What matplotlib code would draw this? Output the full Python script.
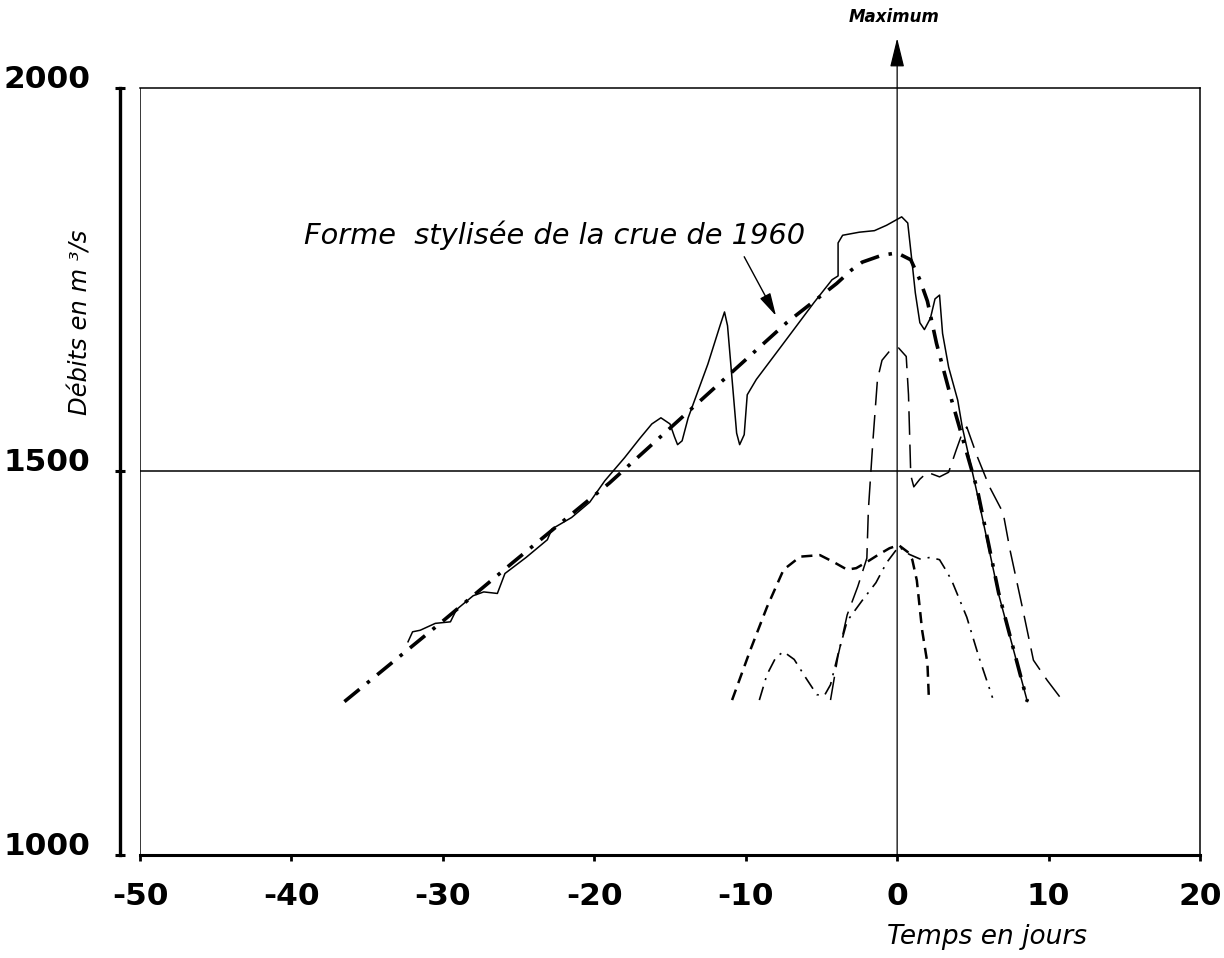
import matplotlib
matplotlib.use("Agg")
import matplotlib.pyplot as plt

plt.rcParams['lines.scale_dashes'] = False
plt.rcParams['axes.unicode_minus'] = False
plt.rcParams['font.family'] = ['DejaVu Sans']

# ---- data ----
x_ticks = [-50, -40, -30, -20, -10, 0, 10, 20]
y_ticks = [1000, 1500, 2000]

# stylised 1960 flood (thick dash-dot)
styl_t = [-36.5, -30, -25.4, -19, -11.5, -7.3, -4, -3, -2.3, -1, 0, 0.9, 1.5, 2.0, 2.6, 3.6, 5.3, 6.7, 8.6]
styl_q = [1200, 1305, 1381, 1485, 1619, 1694, 1745, 1763, 1773, 1782, 1785, 1776, 1750, 1722, 1667, 1593, 1476, 1342, 1200]

# observed 1960 flood (solid)
f1960_t = [-32.3, -32.0, -31.5, -30.5, -29.5, -29.1, -28.0, -27.3, -26.4, -25.9, -24.5, -23.1, -22.8,
           -21.5, -20.3, -19.3, -18.0, -17.0, -16.2, -15.6, -15.0, -14.7, -14.5, -14.2, -13.8, -12.5,
           -11.7, -11.4, -11.2, -10.9, -10.6, -10.4, -10.1, -9.9, -9.3, -7.7, -5.5, -4.3, -3.9, -3.9,
           -3.6, -2.5, -1.5, -0.7, 0.3, 0.7, 1.0, 1.2, 1.5, 1.8, 2.2, 2.5, 2.8, 3.0, 3.4, 4.0, 4.3,
           5.3, 6.7, 8.6]
f1960_q = [1278, 1291, 1293, 1302, 1304, 1320, 1338, 1343, 1341, 1367, 1388, 1411, 1425,
           1440, 1460, 1488, 1518, 1543, 1562, 1570, 1562, 1545, 1535, 1540, 1570, 1640,
           1690, 1708, 1690, 1620, 1550, 1535, 1548, 1600, 1620, 1662, 1720, 1750, 1755, 1798,
           1808, 1812, 1814, 1821, 1832, 1824, 1770, 1733, 1694, 1685, 1700, 1725, 1730, 1680,
           1636, 1593, 1558, 1470, 1340, 1200]

# flood A (long dashes, max ~1660)
fa_t = [-4.4, -3.9, -3.3, -2.6, -2.0, -1.9, -1.6, -1.3, -1.0, -0.5, 0.1, 0.6, 0.75, 0.85, 0.9, 1.1,
        1.5, 2.0, 2.8, 3.4, 3.9, 4.3, 4.6, 5.3, 6.1, 7.0, 7.45, 8.3, 9.0, 9.9, 10.9]
fa_q = [1202, 1260, 1313, 1350, 1387, 1450, 1540, 1620, 1645, 1657, 1661, 1650, 1600, 1530, 1495, 1480,
        1490, 1499, 1493, 1499, 1528, 1550, 1558, 1519, 1480, 1446, 1398, 1320, 1254, 1228, 1202]

# flood B (medium dashes, max ~1400)
fb_t = [-10.9, -9.7, -8.6, -7.5, -6.4, -5.1, -4.2, -3.3, -2.7, -2.0, -1.2, -0.5, 0.1, 0.7, 1.0, 1.3, 1.65, 2.0, 2.1]
fb_q = [1202, 1267, 1323, 1372, 1389, 1391, 1382, 1372, 1374, 1382, 1392, 1400, 1404, 1395, 1385, 1358, 1293, 1250, 1202]

# flood C (thin dash-dot, max ~1400)
fc_t = [-9.1, -8.6, -8.0, -7.5, -6.8, -6.0, -5.3, -4.8, -4.4, -3.9, -3.3, -2.3, -1.4, -0.7, 0.1,
        0.8, 1.5, 2.2, 2.8, 3.2, 3.6, 4.6, 5.4, 6.3]
fc_q = [1202, 1235, 1258, 1265, 1255, 1230, 1209, 1208, 1222, 1262, 1305, 1332, 1355, 1381, 1402,
        1392, 1386, 1388, 1385, 1372, 1358, 1310, 1258, 1205]

annot_text = "Forme  stylisée de la crue de 1960"
xlabel = "Temps en jours"
ylabel = "Débits en m ³/s"
max_label = "Maximum"

# ---- figure ----
fig = plt.figure(figsize=(12.24, 9.58), dpi=100)
ax = fig.add_axes([140/1224, 103/958, 1060/1224, 767/958])
ax.set_xlim(-50, 20)
ax.set_ylim(1000, 2000)

ax.plot(f1960_t, f1960_q, color='k', lw=1.1, solid_joinstyle='round')
ax.plot(styl_t, styl_q, color='k', lw=2.6, linestyle=(0, (14, 7, 2.5, 7)))
ax.plot(fa_t, fa_q, color='k', lw=1.1, linestyle=(0, (17, 7)))
ax.plot(fb_t, fb_q, color='k', lw=1.8, linestyle=(0, (8, 5)))
ax.plot(fc_t, fc_q, color='k', lw=1.2, linestyle=(0, (10, 5, 1.5, 5)))

# reference lines
ax.axhline(1500, color='k', lw=1.1)
ax.axvline(-50, color='k', lw=1.1)

# Maximum arrow
ax.annotate('', xy=(0, 2065), xytext=(0, 1000), annotation_clip=False,
            arrowprops=dict(arrowstyle='-|>,head_length=0.9,head_width=0.22', color='k',
                            lw=0.9, mutation_scale=20, shrinkA=0, shrinkB=0))
ax.text(-0.2, 2092, max_label, ha='center', va='center', fontsize=12,
        style='italic', fontweight='bold', clip_on=False)

# annotation of stylised curve
ax.text(-22.6, 1808, annot_text, ha='center', va='center', fontsize=20.8, style='italic')
ax.annotate('', xy=(-8.0, 1703), xytext=(-10.1, 1780),
            arrowprops=dict(arrowstyle='-|>,head_length=0.7,head_width=0.18', color='k',
                            lw=1.0, mutation_scale=20, shrinkA=0, shrinkB=0))

# spines
ax.spines['left'].set_position(('outward', 14.4))
ax.spines['left'].set_linewidth(2.4)
ax.spines['bottom'].set_linewidth(2.2)
ax.spines['top'].set_linewidth(1.1)
ax.spines['right'].set_linewidth(1.1)

ax.set_xticks(x_ticks)
ax.set_xticklabels([str(v) for v in x_ticks])
ax.set_yticks(y_ticks)
ax.set_yticklabels([str(v) for v in y_ticks])
ax.tick_params(axis='y', direction='inout', length=7, width=2.2, pad=18,
               labelsize=22.5)
ax.tick_params(axis='x', direction='out', length=4, width=2.0, pad=15.5,
               labelsize=22.5)
for lab in ax.get_yticklabels() + ax.get_xticklabels():
    lab.set_fontweight('bold')
for lab in ax.get_yticklabels():
    lab.set_verticalalignment('baseline')

ax.set_xlabel(xlabel, fontsize=19, style='italic')
ax.xaxis.set_label_coords(0.799, -0.107)
ax.xaxis.label.set_verticalalignment('center')
ax.set_ylabel(ylabel, fontsize=17.5, style='italic')
ax.yaxis.set_label_coords(-0.0566, 0.695)
ax.yaxis.label.set_verticalalignment('center')

fig.savefig('out.png', dpi=100)
